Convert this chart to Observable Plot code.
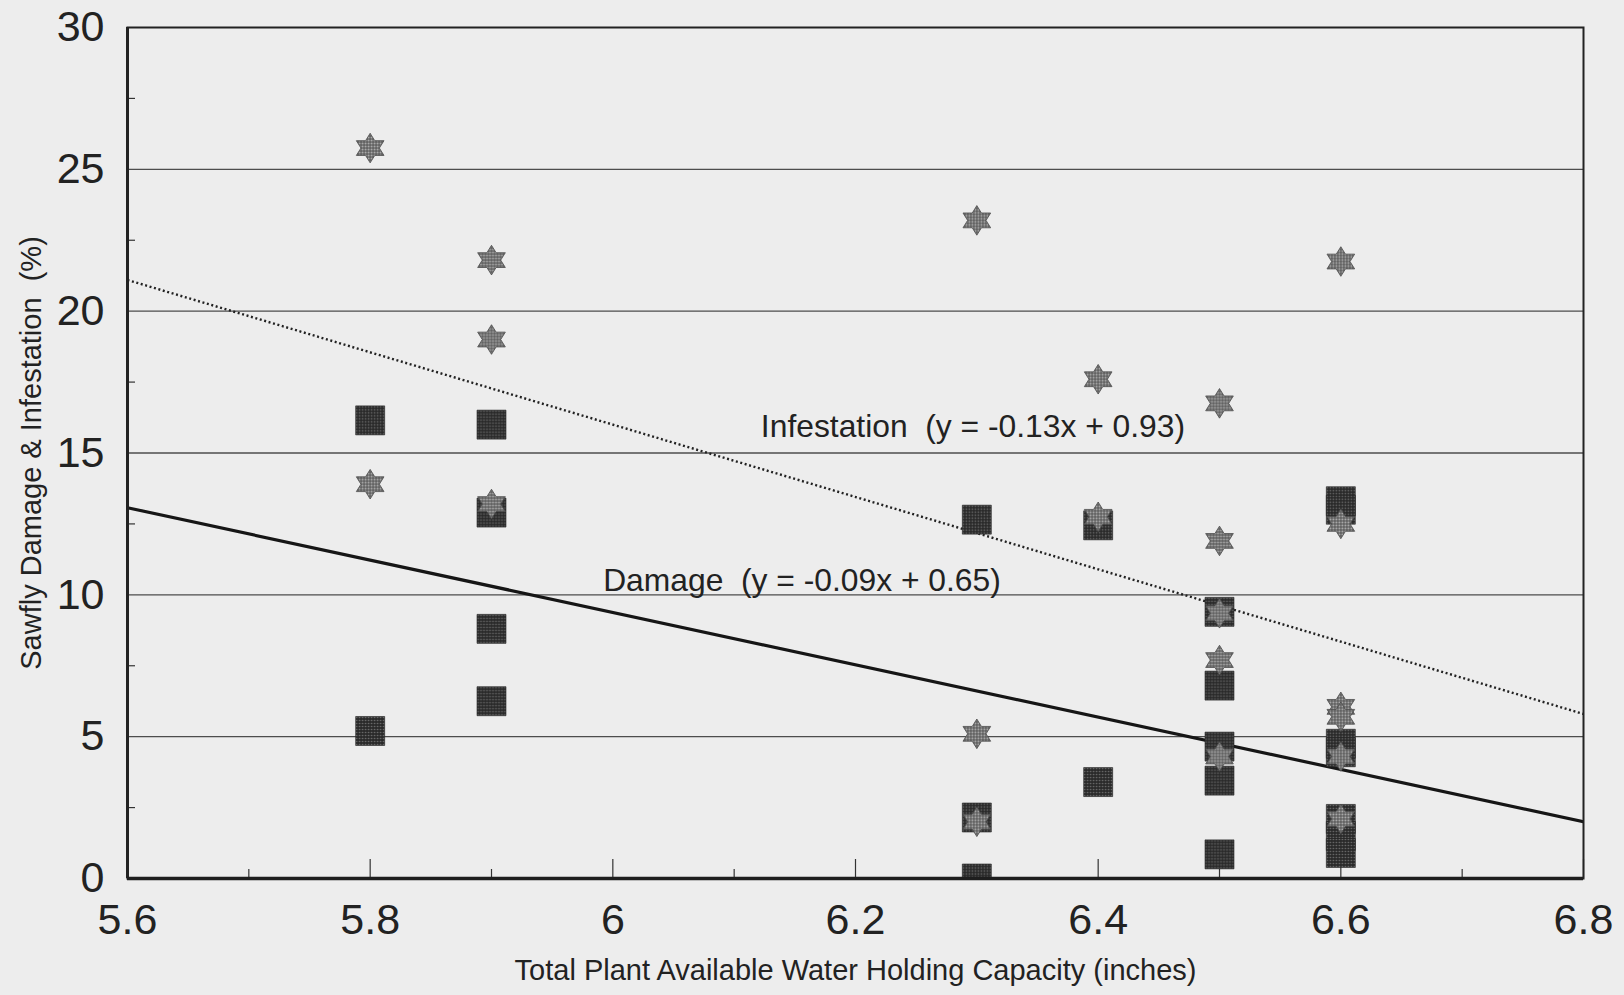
<!DOCTYPE html>
<html>
<head>
<meta charset="utf-8">
<script src="https://cdn.jsdelivr.net/npm/d3@7"></script>
<script src="https://cdn.jsdelivr.net/npm/@observablehq/plot@0.6"></script>
<style>
  html, body { margin: 0; padding: 0; background: #ededed; }
</style>
</head>
<body>
<div id="chart"></div>
<script>
// ---- Data ----
// Infestation (%) — six-pointed stars
const infX = [5.8, 5.8, 5.9, 5.9, 5.9, 6.3, 6.3, 6.3, 6.4, 6.4, 6.5, 6.5, 6.5, 6.5, 6.5, 6.6, 6.6, 6.6, 6.6, 6.6, 6.6];
const infY = [25.75, 13.9, 21.8, 19.0, 13.2, 23.2, 5.1, 2.0, 17.6, 12.75, 16.75, 11.9, 9.35, 7.7, 4.3, 21.75, 12.5, 6.05, 5.7, 4.3, 2.1];

// Damage (%) — squares
const dmgX = [5.8, 5.8, 5.9, 5.9, 5.9, 5.9, 6.3, 6.3, 6.3, 6.4, 6.4, 6.5, 6.5, 6.5, 6.5, 6.5, 6.6, 6.6, 6.6, 6.6, 6.6, 6.6, 6.6];
const dmgY = [16.15, 5.2, 16.0, 12.9, 8.8, 6.25, 12.65, 2.15, 0.0, 12.45, 3.4, 9.4, 6.8, 4.65, 3.45, 0.85, 13.3, 13.0, 4.75, 4.45, 2.1, 1.5, 0.9];

// Regression lines (end points at the frame edges)
const infLineX = [5.6, 6.8];
const infLineY = [21.1, 5.8];
const dmgLineX = [5.6, 6.8];
const dmgLineY = [13.07, 2.0];

// Line annotations
const noteText = ["Infestation\u00a0\u00a0(y = -0.13x + 0.93)", "Damage\u00a0\u00a0(y = -0.09x + 0.65)"];
const noteX = [6.122, 5.992];
const noteY = [15.92, 10.5];

// Axes
const xTickVals = [5.6, 5.8, 6.0, 6.2, 6.4, 6.6, 6.8];
const xTickLabels = ["5.6", "5.8", "6", "6.2", "6.4", "6.6", "6.8"];
const xMinorVals = [5.7, 5.9, 6.1, 6.3, 6.5, 6.7];
const yTickVals = [0, 5, 10, 15, 20, 25, 30];
const yTickLabels = ["0", "5", "10", "15", "20", "25", "30"];
const yMinorVals = [2.5, 7.5, 12.5, 17.5, 22.5, 27.5];
const gridYVals = [5, 10, 15, 20, 25];

const xTitle = "Total Plant Available Water Holding Capacity (inches)";
const yTitle = "Sawfly Damage & Infestation\u00a0\u00a0(%)";

// ---- Tables built from the arrays ----
const infestation = infX.map((x, i) => ({x, y: infY[i]}));
const damage = dmgX.map((x, i) => ({x, y: dmgY[i]}));
const infLine = infLineX.map((x, i) => ({x, y: infLineY[i]}));
const dmgLine = dmgLineX.map((x, i) => ({x, y: dmgLineY[i]}));
const notes = noteText.map((t, i) => ({t, x: noteX[i], y: noteY[i]}));

// ---- Custom symbols ----
const hexagram = {
  draw(ctx, size) {
    const R = Math.sqrt(size / Math.PI);
    const r = R / Math.sqrt(3);
    for (let k = 0; k < 12; k++) {
      const a = -Math.PI / 2 + k * Math.PI / 6;
      const rad = k % 2 === 0 ? R : r;
      const px = Math.cos(a) * rad * 1.08, py = Math.sin(a) * rad;
      if (k === 0) ctx.moveTo(px, py); else ctx.lineTo(px, py);
    }
    ctx.closePath();
  }
};
const squareSym = {
  draw(ctx, size) {
    const h = Math.sqrt(size / Math.PI);
    ctx.rect(-h, -h, 2 * h, 2 * h);
  }
};

// Texture patterns (screened fills like the printed original)
function textures() {
  const defs = d3.create("svg:defs");
  const p1 = defs.append("pattern").attr("id", "sqTex")
    .attr("width", 3).attr("height", 3).attr("patternUnits", "userSpaceOnUse");
  p1.append("rect").attr("width", 3).attr("height", 3).attr("fill", "#2a2a2a");
  p1.append("circle").attr("cx", 1.5).attr("cy", 1.5).attr("r", 0.8).attr("fill", "#707070");
  const p2 = defs.append("pattern").attr("id", "starTex")
    .attr("width", 3).attr("height", 3).attr("patternUnits", "userSpaceOnUse");
  p2.append("rect").attr("width", 3).attr("height", 3).attr("fill", "#5e5e5e");
  p2.append("circle").attr("cx", 1.5).attr("cy", 1.5).attr("r", 0.95).attr("fill", "#b4b4b4");
  return defs.node();
}

const font = "'Liberation Sans', Arial, Helvetica, sans-serif";
const plot = Plot.plot({
  width: 1624,
  height: 995,
  marginLeft: 127,
  marginRight: 41,
  marginTop: 27,
  marginBottom: 117,
  style: {background: "#ededed", fontFamily: font, color: "#222"},
  x: {domain: [5.6, 6.8], label: null},
  y: {domain: [0, 30], label: null},
  marks: [
    textures,
    Plot.ruleY(gridYVals, {stroke: "#4d4d4d", strokeWidth: 1.3}),
    Plot.axisY(yMinorVals, {tickSize: -8, tickFormat: () => "", stroke: "#333", strokeWidth: 1.2, label: null}),
    Plot.axisY(yTickVals, {tickSize: 0, tickPadding: 23, fontSize: 43, fill: "#222",
      tickFormat: d => yTickLabels[yTickVals.indexOf(d)], label: null}),
    Plot.axisX(xTickVals, {tickSize: -19, tickFormat: () => "", stroke: "#333", strokeWidth: 1.2, label: null}),
    Plot.axisX(xMinorVals, {tickSize: -9, tickFormat: () => "", stroke: "#333", strokeWidth: 1.2, label: null}),
    Plot.axisX(xTickVals, {tickSize: 0, tickPadding: 25, fontSize: 43, fill: "#222",
      tickFormat: d => xTickLabels[xTickVals.indexOf(d)], label: null}),
    Plot.line(infLine, {x: "x", y: "y", stroke: "#222", strokeWidth: 2.4, strokeDasharray: "2,2.6", strokeLinecap: "butt", clip: true}),
    Plot.line(dmgLine, {x: "x", y: "y", stroke: "#161616", strokeWidth: 3.2, clip: true}),
    Plot.dot(damage, {x: "x", y: "y", symbol: squareSym, r: 14.5, fill: "url(#sqTex)", stroke: "#262626", strokeWidth: 0.6, clip: true}),
    Plot.dot(infestation, {x: "x", y: "y", symbol: hexagram, r: 14.8, fill: "url(#starTex)", stroke: "#4a4a4a", strokeWidth: 0.8, clip: true}),
    Plot.text(notes, {x: "x", y: "y", text: "t", textAnchor: "start", fontSize: 31.8, fill: "#222"}),
    Plot.frame({stroke: "#222", strokeWidth: 2}),
    Plot.ruleX([5.6], {stroke: "#222", strokeWidth: 3}),
    Plot.ruleY([0], {stroke: "#1e1e1e", strokeWidth: 3.5}),
    Plot.text([xTitle], {frameAnchor: "bottom", dy: 92, lineAnchor: "middle", textAnchor: "middle", fontSize: 29, fill: "#222"}),
    Plot.text([yTitle], {frameAnchor: "left", dx: -96, rotate: -90, lineAnchor: "middle", textAnchor: "middle", fontSize: 29, fill: "#222"})
  ]
});
document.getElementById("chart").appendChild(plot);
</script>
</body>
</html>
